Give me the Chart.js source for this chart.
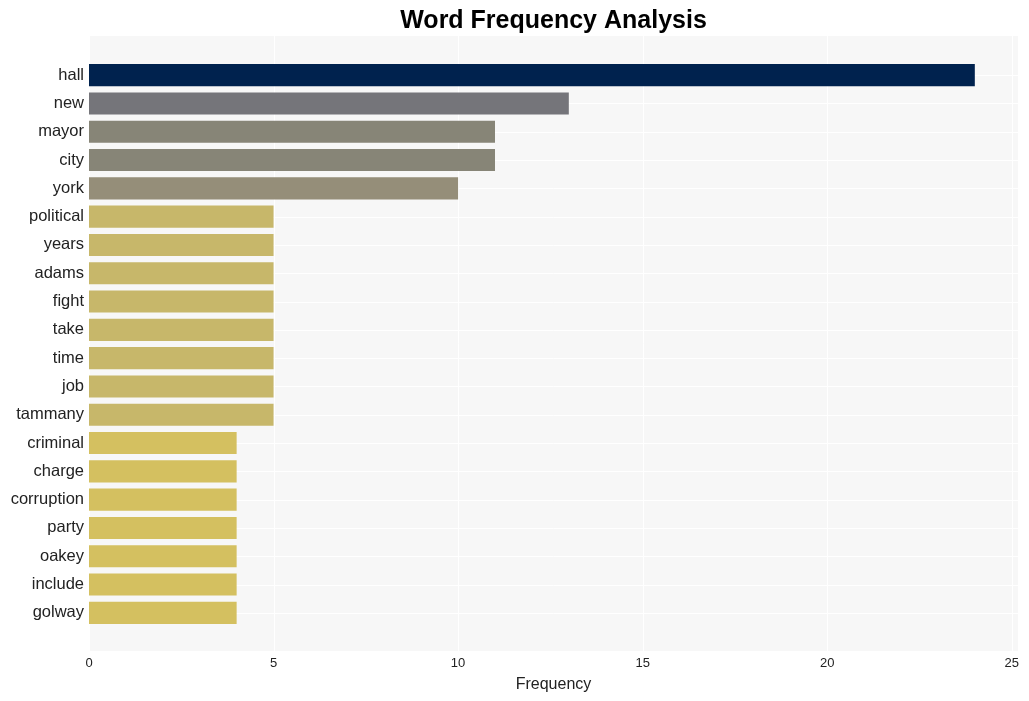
<!DOCTYPE html>
<html>
<head>
<meta charset="utf-8">
<script src="https://cdn.jsdelivr.net/npm/chart.js@4/dist/chart.umd.min.js"></script>
<style>
  html, body { margin: 0; padding: 0; background: #fff; }
  #wrap { width: 1029px; height: 701px; position: relative; }
</style>
</head>
<body>
<div id="wrap"><canvas id="chart"></canvas></div>
<script>
'use strict';

// words, top to bottom
var words = ['hall', 'new', 'mayor', 'city', 'york', 'political', 'years', 'adams',
    'fight', 'take', 'time', 'job', 'tammany', 'criminal', 'charge', 'corruption',
    'party', 'oakey', 'include', 'golway'];
var counts = [24, 13, 11, 11, 10, 5, 5, 5, 5, 5, 5, 5, 5, 4, 4, 4, 4, 4, 4, 4];
var barColors = ['#00224e', '#75757a', '#878577', '#878577', '#958e79',
    '#c7b76a', '#c7b76a', '#c7b76a', '#c7b76a', '#c7b76a', '#c7b76a', '#c7b76a', '#c7b76a',
    '#d4c060', '#d4c060', '#d4c060', '#d4c060', '#d4c060', '#d4c060', '#d4c060'];
var xTicks = [0, 5, 10, 15, 20, 25];

var FONT = "'Liberation Sans', Arial, sans-serif";
var EXTRA_TOP = 25, EXTRA_BOTTOM = 24;

// gray panel + white grid, drawn a bit past the bars like the original
var panelPlugin = {
    id: 'panel',
    beforeDraw: function(chart) {
        var ctx = chart.ctx, a = chart.chartArea;
        var xs = chart.scales.x, ys = chart.scales.y;
        var top = a.top - EXTRA_TOP, bottom = a.bottom + EXTRA_BOTTOM;
        ctx.save();
        ctx.fillStyle = '#f7f7f7';
        ctx.fillRect(a.left, top, a.right - a.left, bottom - top);
        ctx.strokeStyle = '#ffffff';
        ctx.lineWidth = 1;
        xTicks.forEach(function(v) {
            var px = Math.round(xs.getPixelForValue(v)) + 0.5;
            ctx.beginPath(); ctx.moveTo(px, top); ctx.lineTo(px, bottom); ctx.stroke();
        });
        words.forEach(function(w, i) {
            var py = Math.round(ys.getPixelForValue(i)) + 0.5;
            ctx.beginPath(); ctx.moveTo(a.left, py); ctx.lineTo(a.right, py); ctx.stroke();
        });
        ctx.restore();
    },
    afterDraw: function(chart) {
        var ctx = chart.ctx, a = chart.chartArea;
        ctx.save();
        ctx.fillStyle = '#000';
        ctx.font = 'bold 25px ' + FONT;
        ctx.textAlign = 'center';
        ctx.textBaseline = 'middle';
        ctx.fillText('Word Frequency Analysis', (a.left + a.right) / 2, 21);
        ctx.restore();
    }
};

new Chart(document.getElementById('chart'), {
    type: 'bar',
    data: {
        labels: words,
        datasets: [{
            data: counts,
            backgroundColor: barColors,
            borderWidth: 0,
            barPercentage: 0.78,
            categoryPercentage: 1.0
        }]
    },
    options: {
        indexAxis: 'y',
        responsive: true,
        maintainAspectRatio: false,
        animation: false,
        layout: { padding: { top: 61, right: 11, bottom: 0, left: 0 } },
        plugins: {
            legend: { display: false },
            title: { display: false },
            tooltip: { enabled: false }
        },
        scales: {
            x: {
                min: 0,
                max: 25.17,
                border: { display: false },
                grid: { display: false, drawTicks: false },
                afterFit: function(scale) {
                    scale.height = 74;
                    scale.paddingLeft = 0;
                    scale.paddingRight = 0;
                },
                ticks: {
                    stepSize: 5,
                    includeBounds: false,
                    padding: 29,
                    color: '#222',
                    font: { family: FONT, size: 13 }
                },
                title: {
                    display: true,
                    text: 'Frequency',
                    color: '#222',
                    font: { family: FONT, size: 16 },
                    padding: { top: 0, bottom: 7 }
                }
            },
            y: {
                border: { display: false },
                grid: { display: false, drawTicks: false },
                afterFit: function(scale) {
                    scale.width = 89;
                },
                ticks: {
                    padding: 5,
                    autoSkip: false,
                    color: '#222',
                    font: { family: FONT, size: 16.5 }
                }
            }
        }
    },
    plugins: [panelPlugin]
});
</script>
</body>
</html>
